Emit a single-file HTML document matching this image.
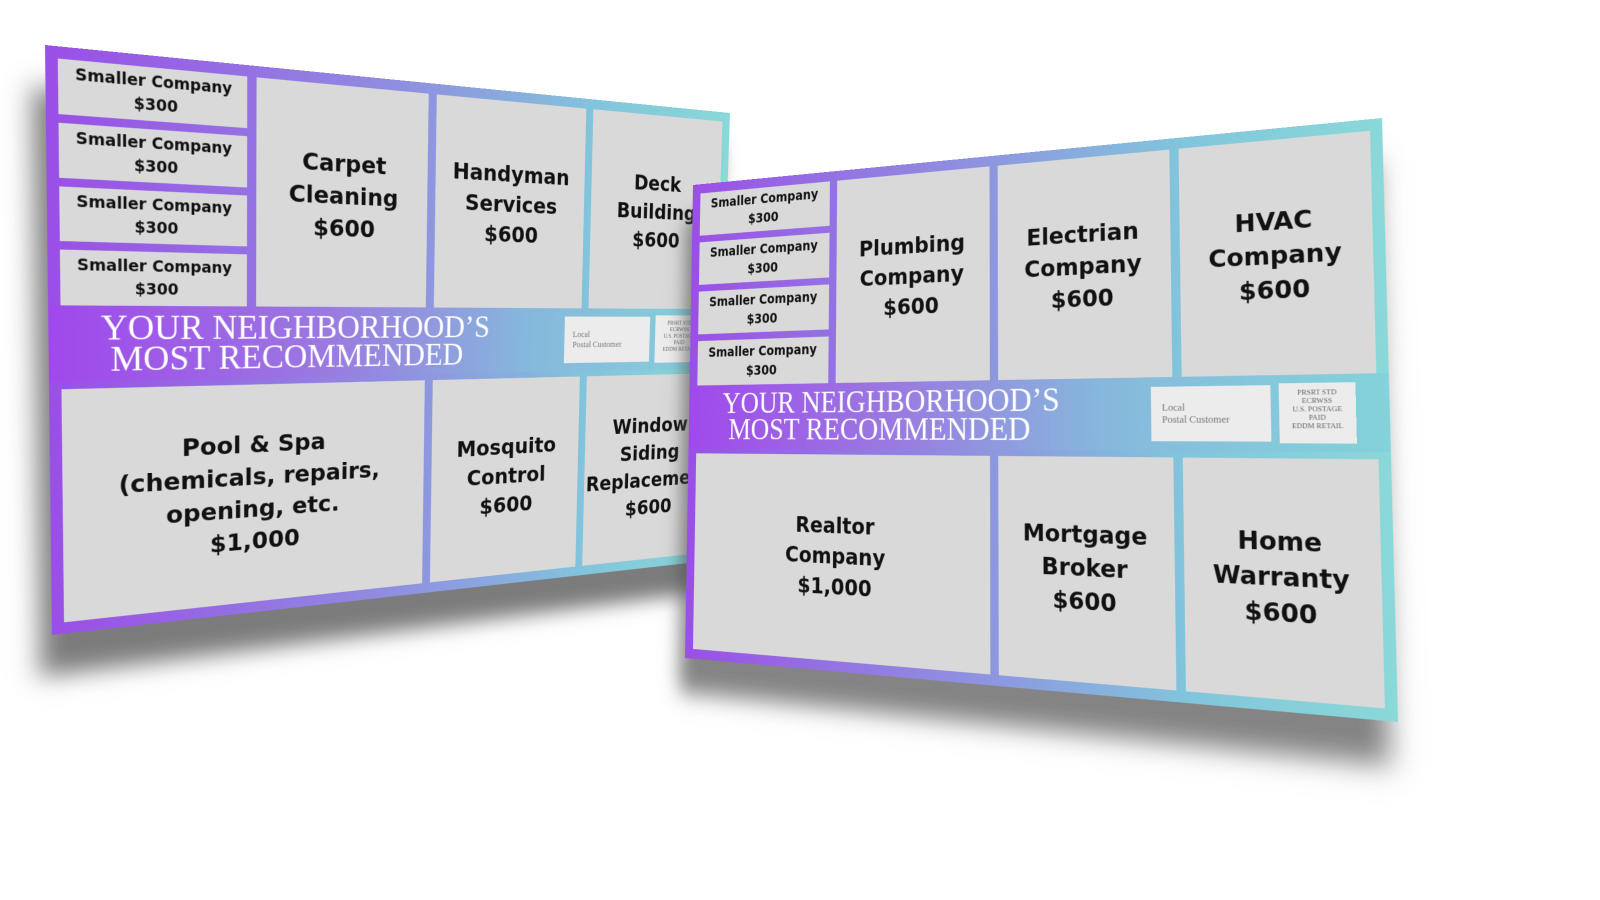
<!DOCTYPE html>
<html><head><meta charset="utf-8">
<style>
html,body{margin:0;padding:0;background:#fff;width:1600px;height:900px;overflow:hidden;}
.card{position:absolute;left:0;top:0;width:1000px;height:700px;transform-origin:0 0;
 background:linear-gradient(90deg,#9a4fe6 0%,#8f8fe0 45%,#82c4dc 75%,#8ad8d8 100%);
 font-family:"DejaVu Sans","Liberation Sans",sans-serif;font-weight:bold;color:#111;}
.c{position:absolute;background:#d9d9d9;display:flex;align-items:center;justify-content:center;text-align:center;line-height:1.35;}
.big{font-size:31px;}
.sm{font-size:19px;line-height:1.45;}
.band{position:absolute;left:0;top:302px;width:1000px;height:92px;background:linear-gradient(90deg,#a048ec 0%,#9a7ae0 35%,#86b8dc 65%,#84d2da 100%);}
.bt{position:absolute;left:60px;top:8px;color:#fff;font-family:"Liberation Serif","DejaVu Serif",serif;font-weight:normal;font-size:44px;line-height:38px;letter-spacing:0px;}
.addr{position:absolute;left:712px;top:12px;width:150px;height:68px;background:#ececec;font-family:"Liberation Serif",serif;font-weight:normal;font-size:13px;color:#777;padding:18px 0 0 14px;box-sizing:border-box;line-height:15px;}
.perm{position:absolute;left:872px;top:10px;width:90px;height:72px;background:#ececec;font-family:"Liberation Serif",serif;font-weight:normal;font-size:9px;color:#666;text-align:center;line-height:10px;padding-top:6px;box-sizing:border-box;}
</style></head><body>

<div class="card" style="transform:matrix3d(0.9235,0.10492,0,0.00032672, 0.013014,0.87966,0,0.000057963, 0,0,1,0, 45,45,0,1);box-shadow:-14px 50px 28px rgba(80,80,80,.75);">
 <div class="c sm" style="left:14px;top:14px;width:226px;height:64px">Smaller Company<br>$300</div>
 <div class="c sm" style="left:14px;top:88px;width:226px;height:64px">Smaller Company<br>$300</div>
 <div class="c sm" style="left:14px;top:162px;width:226px;height:64px">Smaller Company<br>$300</div>
 <div class="c sm" style="left:14px;top:236px;width:226px;height:66px">Smaller Company<br>$300</div>
 <div class="c big" style="left:252px;top:14px;width:238px;height:288px">Carpet<br>Cleaning<br>$600</div>
 <div class="c big" style="left:502px;top:14px;width:238px;height:288px">Handyman<br>Services<br>$600</div>
 <div class="c big" style="left:752px;top:14px;width:234px;height:288px">Deck<br>Building<br>$600</div>
 <div class="band"><div class="bt">YOUR NEIGHBORHOOD’S<br>&nbsp;MOST RECOMMENDED</div>
  <div class="addr">Local<br>Postal Customer</div>
  <div class="perm">PRSRT STD<br>ECRWSS<br>U.S. POSTAGE<br>PAID<br>EDDM RETAIL</div></div>
 <div class="c big" style="left:14px;top:402px;width:476px;height:284px">Pool &amp; Spa<br>(chemicals, repairs,<br>opening, etc.<br>$1,000</div>
 <div class="c big" style="left:502px;top:402px;width:238px;height:284px">Mosquito<br>Control<br>$600</div>
 <div class="c big" style="left:752px;top:402px;width:234px;height:284px">Window<br>Siding<br>Replacement<br>$600</div>
</div>

<div class="card" style="transform:matrix3d(0.39349,-0.09223,0,-0.00021383, -0.03967,0.64859,0,-0.00004123, 0,0,1,0, 693,185,0,1);box-shadow:-10px 50px 30px rgba(80,80,80,.7);">
 <div class="c sm" style="left:14px;top:14px;width:226px;height:64px">Smaller Company<br>$300</div>
 <div class="c sm" style="left:14px;top:88px;width:226px;height:64px">Smaller Company<br>$300</div>
 <div class="c sm" style="left:14px;top:162px;width:226px;height:64px">Smaller Company<br>$300</div>
 <div class="c sm" style="left:14px;top:236px;width:226px;height:66px">Smaller Company<br>$300</div>
 <div class="c big" style="left:252px;top:14px;width:238px;height:288px">Plumbing<br>Company<br>$600</div>
 <div class="c big" style="left:502px;top:14px;width:238px;height:288px">Electrian<br>Company<br>$600</div>
 <div class="c big" style="left:752px;top:14px;width:234px;height:288px">HVAC<br>Company<br>$600</div>
 <div class="band"><div class="bt">YOUR NEIGHBORHOOD’S<br>&nbsp;MOST RECOMMENDED</div>
  <div class="addr">Local<br>Postal Customer</div>
  <div class="perm">PRSRT STD<br>ECRWSS<br>U.S. POSTAGE<br>PAID<br>EDDM RETAIL</div></div>
 <div class="c big" style="left:14px;top:402px;width:476px;height:284px">Realtor<br>Company<br>$1,000</div>
 <div class="c big" style="left:502px;top:402px;width:238px;height:284px">Mortgage<br>Broker<br>$600</div>
 <div class="c big" style="left:752px;top:402px;width:234px;height:284px">Home<br>Warranty<br>$600</div>
</div>

</body></html>
